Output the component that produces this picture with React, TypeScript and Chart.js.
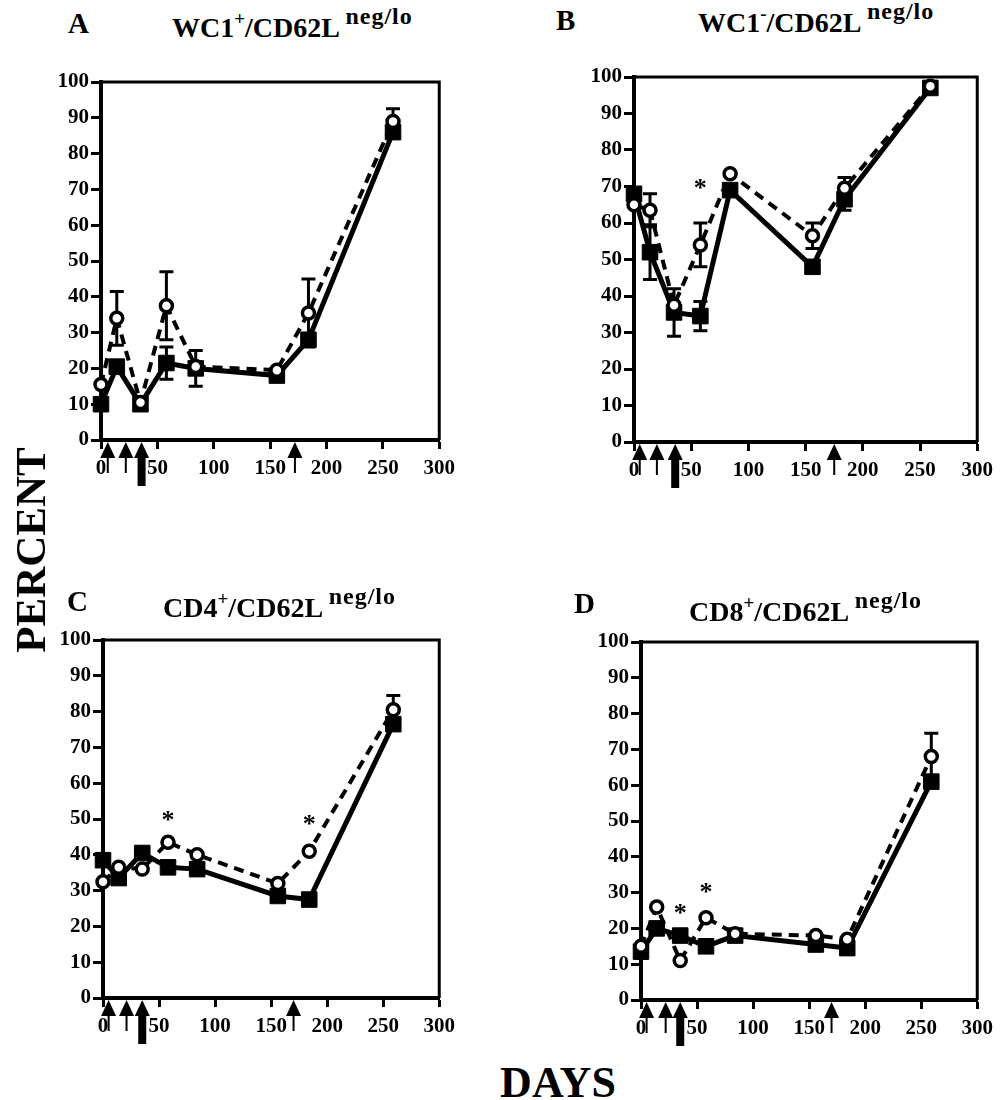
import React, { useEffect, useRef } from "react";
import { Chart, registerables } from "chart.js";

Chart.register(...registerables);

// ---------- data ----------
const days = [0, 14, 35, 58, 84, 156, 184, 259];
const xTickValues = [0, 50, 100, 150, 200, 250, 300];
const yTickValues = [0, 10, 20, 30, 40, 50, 60, 70, 80, 90, 100];

const aFilled = [10, 20.5, 10, 21.5, 20, 18, 28, 86];
const aFilledErr = [0, 0, 0, 4.5, 5, 0, 0, 0];
const aOpen = [15.5, 34, 10.5, 37.5, 20.5, 19.5, 35.5, 89];
const aOpenErr = [0, 7.5, 0, 9.5, 0, 0, 9.5, 3.5];
const aStarDays: number[] = [];
const aStarValues: number[] = [];
const aArrowDays = [6, 22, 36, 172];

const bFilled = [68, 52, 35.5, 34.5, 69, 48, 66.5, 97];
const bFilledErr = [0, 7.5, 6.5, 4, 0, 0, 3, 0];
const bOpen = [65, 63.5, 37.5, 54, 73.5, 56.5, 69.5, 97.5];
const bOpenErr = [0, 4.5, 0, 6, 0, 3.5, 3, 0];
const bStarDays = [58];
const bStarValues = [71];
const bArrowDays = [5, 20, 36, 175];

const cFilled = [38.5, 33.5, 40.5, 36.5, 36, 28.5, 27.5, 76.5];
const cFilledErr = [0, 0, 0, 0, 0, 0, 0, 0];
const cOpen = [32.5, 36.5, 36, 43.5, 40, 32, 41, 80.5];
const cOpenErr = [0, 0, 0, 0, 0, 0, 0, 4];
const cStarDays = [58, 184];
const cStarValues = [51, 50];
const cArrowDays = [5, 21, 35, 170];

const dFilled = [13.5, 20, 18, 15, 18, 15.5, 14.5, 61];
const dFilledErr = [0, 0, 0, 0, 0, 0, 0, 0];
const dOpen = [15, 26, 11, 23, 18.5, 18, 17, 68];
const dOpenErr = [0, 0, 0, 0, 0, 0, 0, 6.5];
const dStarDays = [35, 58];
const dStarValues = [25.5, 31.5];
const dArrowDays = [5, 22, 35, 170];

// ---------- layout / style ----------
const ML = 70;
const MT = 25;
const MR = 22;
const MB = 55;
const HEAVY_ARROW_INDEX = 2;
const FONT = '"Liberation Serif", "Times New Roman", serif';

type Panel = {
  letter: string;
  letterX: number;
  letterBase: number;
  main1: string;
  sup1: string;
  titleX: number;
  titleBase: number;
  area: { l: number; t: number; r: number; b: number };
  filled: number[];
  filledErr: number[];
  open: number[];
  openErr: number[];
  starDays: number[];
  starValues: number[];
  arrowDays: number[];
};

const panels: Panel[] = [
  {
    letter: "A", letterX: 68, letterBase: 33, main1: "WC1", sup1: "+",
    titleX: 172, titleBase: 37,
    area: { l: 101, t: 82, r: 440, b: 440 },
    filled: aFilled, filledErr: aFilledErr, open: aOpen, openErr: aOpenErr,
    starDays: aStarDays, starValues: aStarValues, arrowDays: aArrowDays,
  },
  {
    letter: "B", letterX: 556, letterBase: 30, main1: "WC1", sup1: "-",
    titleX: 698, titleBase: 32,
    area: { l: 634, t: 77, r: 978, b: 442 },
    filled: bFilled, filledErr: bFilledErr, open: bOpen, openErr: bOpenErr,
    starDays: bStarDays, starValues: bStarValues, arrowDays: bArrowDays,
  },
  {
    letter: "C", letterX: 67, letterBase: 611, main1: "CD4", sup1: "+",
    titleX: 163, titleBase: 617,
    area: { l: 103, t: 640, r: 440, b: 998 },
    filled: cFilled, filledErr: cFilledErr, open: cOpen, openErr: cOpenErr,
    starDays: cStarDays, starValues: cStarValues, arrowDays: cArrowDays,
  },
  {
    letter: "D", letterX: 574, letterBase: 613, main1: "CD8", sup1: "+",
    titleX: 689, titleBase: 621,
    area: { l: 641, t: 642, r: 978, b: 1000 },
    filled: dFilled, filledErr: dFilledErr, open: dOpen, openErr: dOpenErr,
    starDays: dStarDays, starValues: dStarValues, arrowDays: dArrowDays,
  },
];

function makeExtras(p: Panel) {
  const drawErr = (chart: any, vals: number[], errs: number[]) => {
    const { ctx, scales } = chart;
    const xs = scales.x;
    const ys = scales.y;
    ctx.save();
    ctx.strokeStyle = "#000";
    ctx.lineWidth = 3;
    for (let i = 0; i < days.length; i++) {
      const e = errs[i];
      if (!e) continue;
      const px = xs.getPixelForValue(days[i]);
      const top = ys.getPixelForValue(vals[i] + e);
      const bot = ys.getPixelForValue(vals[i] - e);
      ctx.beginPath();
      ctx.moveTo(px, top);
      ctx.lineTo(px, bot);
      ctx.moveTo(px - 7, top);
      ctx.lineTo(px + 7, top);
      ctx.moveTo(px - 7, bot);
      ctx.lineTo(px + 7, bot);
      ctx.stroke();
    }
    ctx.restore();
  };
  return {
    id: "extras" + p.letter,
    beforeDatasetsDraw(chart: any) {
      drawErr(chart, p.filled, p.filledErr);
      drawErr(chart, p.open, p.openErr);
    },
    afterDraw(chart: any) {
      const { ctx, chartArea, scales } = chart;
      const xs = scales.x;
      const ys = scales.y;
      ctx.save();
      // top & right frame
      ctx.strokeStyle = "#000";
      ctx.lineWidth = 3;
      ctx.beginPath();
      ctx.moveTo(chartArea.left, chartArea.top);
      ctx.lineTo(chartArea.right, chartArea.top);
      ctx.lineTo(chartArea.right, chartArea.bottom);
      ctx.stroke();
      // arrows (injection days)
      ctx.fillStyle = "#000";
      const base = chartArea.bottom + 2;
      p.arrowDays.forEach((d, i) => {
        const px = xs.getPixelForValue(d);
        ctx.beginPath();
        ctx.moveTo(px, base);
        ctx.lineTo(px - 7.5, base + 16);
        ctx.lineTo(px + 7.5, base + 16);
        ctx.closePath();
        ctx.fill();
        if (i === HEAVY_ARROW_INDEX) {
          ctx.fillRect(px - 4, base + 14, 8, 30);
        } else {
          ctx.fillRect(px - 1, base + 14, 2, 17);
        }
      });
      // significance stars
      ctx.font = `bold 26px ${FONT}`;
      ctx.textAlign = "center";
      ctx.textBaseline = "middle";
      p.starDays.forEach((d, i) => {
        ctx.fillText("*", xs.getPixelForValue(d), ys.getPixelForValue(p.starValues[i]) + 6);
      });
      ctx.restore();
    },
  };
}

function PanelChart({ p }: { p: Panel }) {
  const ref = useRef<HTMLCanvasElement>(null);
  const w = p.area.r - p.area.l + ML + MR;
  const h = p.area.b - p.area.t + MT + MB;
  useEffect(() => {
    const canvas = ref.current!;
    const chart = new Chart(canvas, {
      type: "line",
      data: {
        labels: days,
        datasets: [
          {
            label: "open",
            data: days.map((d, i) => ({ x: d, y: p.open[i] })),
            borderColor: "#000",
            borderWidth: 4,
            borderDash: [10, 7],
            pointStyle: "circle",
            pointRadius: 6,
            pointBorderWidth: 3.5,
            pointBackgroundColor: "#fff",
            pointBorderColor: "#000",
            fill: false,
            tension: 0,
            clip: false as any,
          },
          {
            label: "filled",
            data: days.map((d, i) => ({ x: d, y: p.filled[i] })),
            borderColor: "#000",
            borderWidth: 5,
            pointStyle: "rect",
            pointRadius: 11,
            pointBorderWidth: 1,
            pointBackgroundColor: "#000",
            pointBorderColor: "#000",
            fill: false,
            tension: 0,
            clip: false as any,
          },
        ],
      },
      options: {
        responsive: false,
        animation: false,
        devicePixelRatio: 1,
        events: [],
        layout: { padding: { top: MT, right: MR, left: 0, bottom: 0 } },
        plugins: { legend: { display: false }, tooltip: { enabled: false }, title: { display: false } },
        scales: {
          x: {
            type: "linear",
            min: 0,
            max: 300,
            afterBuildTicks: (s: any) => {
              s.ticks = xTickValues.map((v) => ({ value: v }));
            },
            afterFit: (s: any) => {
              s.height = MB;
            },
            ticks: {
              font: { family: FONT, size: 21, weight: "bold" },
              color: "#000",
              padding: 7,
              maxRotation: 0,
              autoSkip: false,
            },
            grid: {
              drawOnChartArea: false,
              drawTicks: true,
              tickLength: 9,
              tickWidth: 3,
              tickColor: "#000",
              color: "#000",
            },
            border: { display: true, color: "#000", width: 4 },
          },
          y: {
            type: "linear",
            min: 0,
            max: 100,
            afterBuildTicks: (s: any) => {
              s.ticks = yTickValues.map((v) => ({ value: v }));
            },
            afterFit: (s: any) => {
              s.width = ML;
            },
            ticks: {
              font: { family: FONT, size: 21, weight: "bold" },
              color: "#000",
              padding: 2,
              autoSkip: false,
            },
            grid: {
              drawOnChartArea: false,
              drawTicks: true,
              tickLength: 10,
              tickWidth: 3,
              tickColor: "#000",
              color: "#000",
            },
            border: { display: true, color: "#000", width: 4 },
          },
        },
      },
      plugins: [makeExtras(p)],
    } as any);
    return () => chart.destroy();
  }, []);
  return (
    <canvas
      ref={ref}
      width={w}
      height={h}
      style={{ position: "absolute", left: p.area.l - ML, top: p.area.t - MT, width: w, height: h }}
    />
  );
}

function PanelTitle({ p }: { p: Panel }) {
  const size = 28;
  return (
    <>
      <div
        style={{
          position: "absolute",
          left: p.letterX,
          top: p.letterBase - 0.8375 * 29,
          font: `bold 29px ${FONT}`,
          lineHeight: 1,
          whiteSpace: "nowrap",
        }}
      >
        {p.letter}
      </div>
      <div
        style={{
          position: "absolute",
          left: p.titleX,
          top: p.titleBase - 0.8375 * size,
          font: `bold ${size}px ${FONT}`,
          lineHeight: 1,
          whiteSpace: "nowrap",
        }}
      >
        {p.main1}
        <span style={{ fontSize: 19, position: "relative", top: -12 }}>{p.sup1}</span>
        /CD62L{" "}
        <span style={{ fontSize: 24, position: "relative", top: -13, letterSpacing: 1 }}>neg/lo</span>
      </div>
    </>
  );
}

export default function App() {
  return (
    <div
      style={{
        position: "absolute",
        left: 0,
        top: 0,
        width: 1000,
        height: 1100,
        background: "#fff",
        color: "#000",
        overflow: "hidden",
      }}
    >
      {panels.map((p) => (
        <PanelChart key={p.letter} p={p} />
      ))}
      {panels.map((p) => (
        <PanelTitle key={"t" + p.letter} p={p} />
      ))}
      <div
        style={{
          position: "absolute",
          left: 31 - 140,
          top: 550 - 25,
          width: 280,
          height: 50,
          lineHeight: "50px",
          textAlign: "center",
          font: `bold 43px ${FONT}`,
          transform: "rotate(-90deg)",
          transformOrigin: "50% 50%",
        }}
      >
        PERCENT
      </div>
      <div
        style={{
          position: "absolute",
          left: 458,
          top: 1098 - 0.8375 * 44,
          width: 200,
          textAlign: "center",
          font: `bold 44px ${FONT}`,
          lineHeight: 1,
        }}
      >
        DAYS
      </div>
    </div>
  );
}
